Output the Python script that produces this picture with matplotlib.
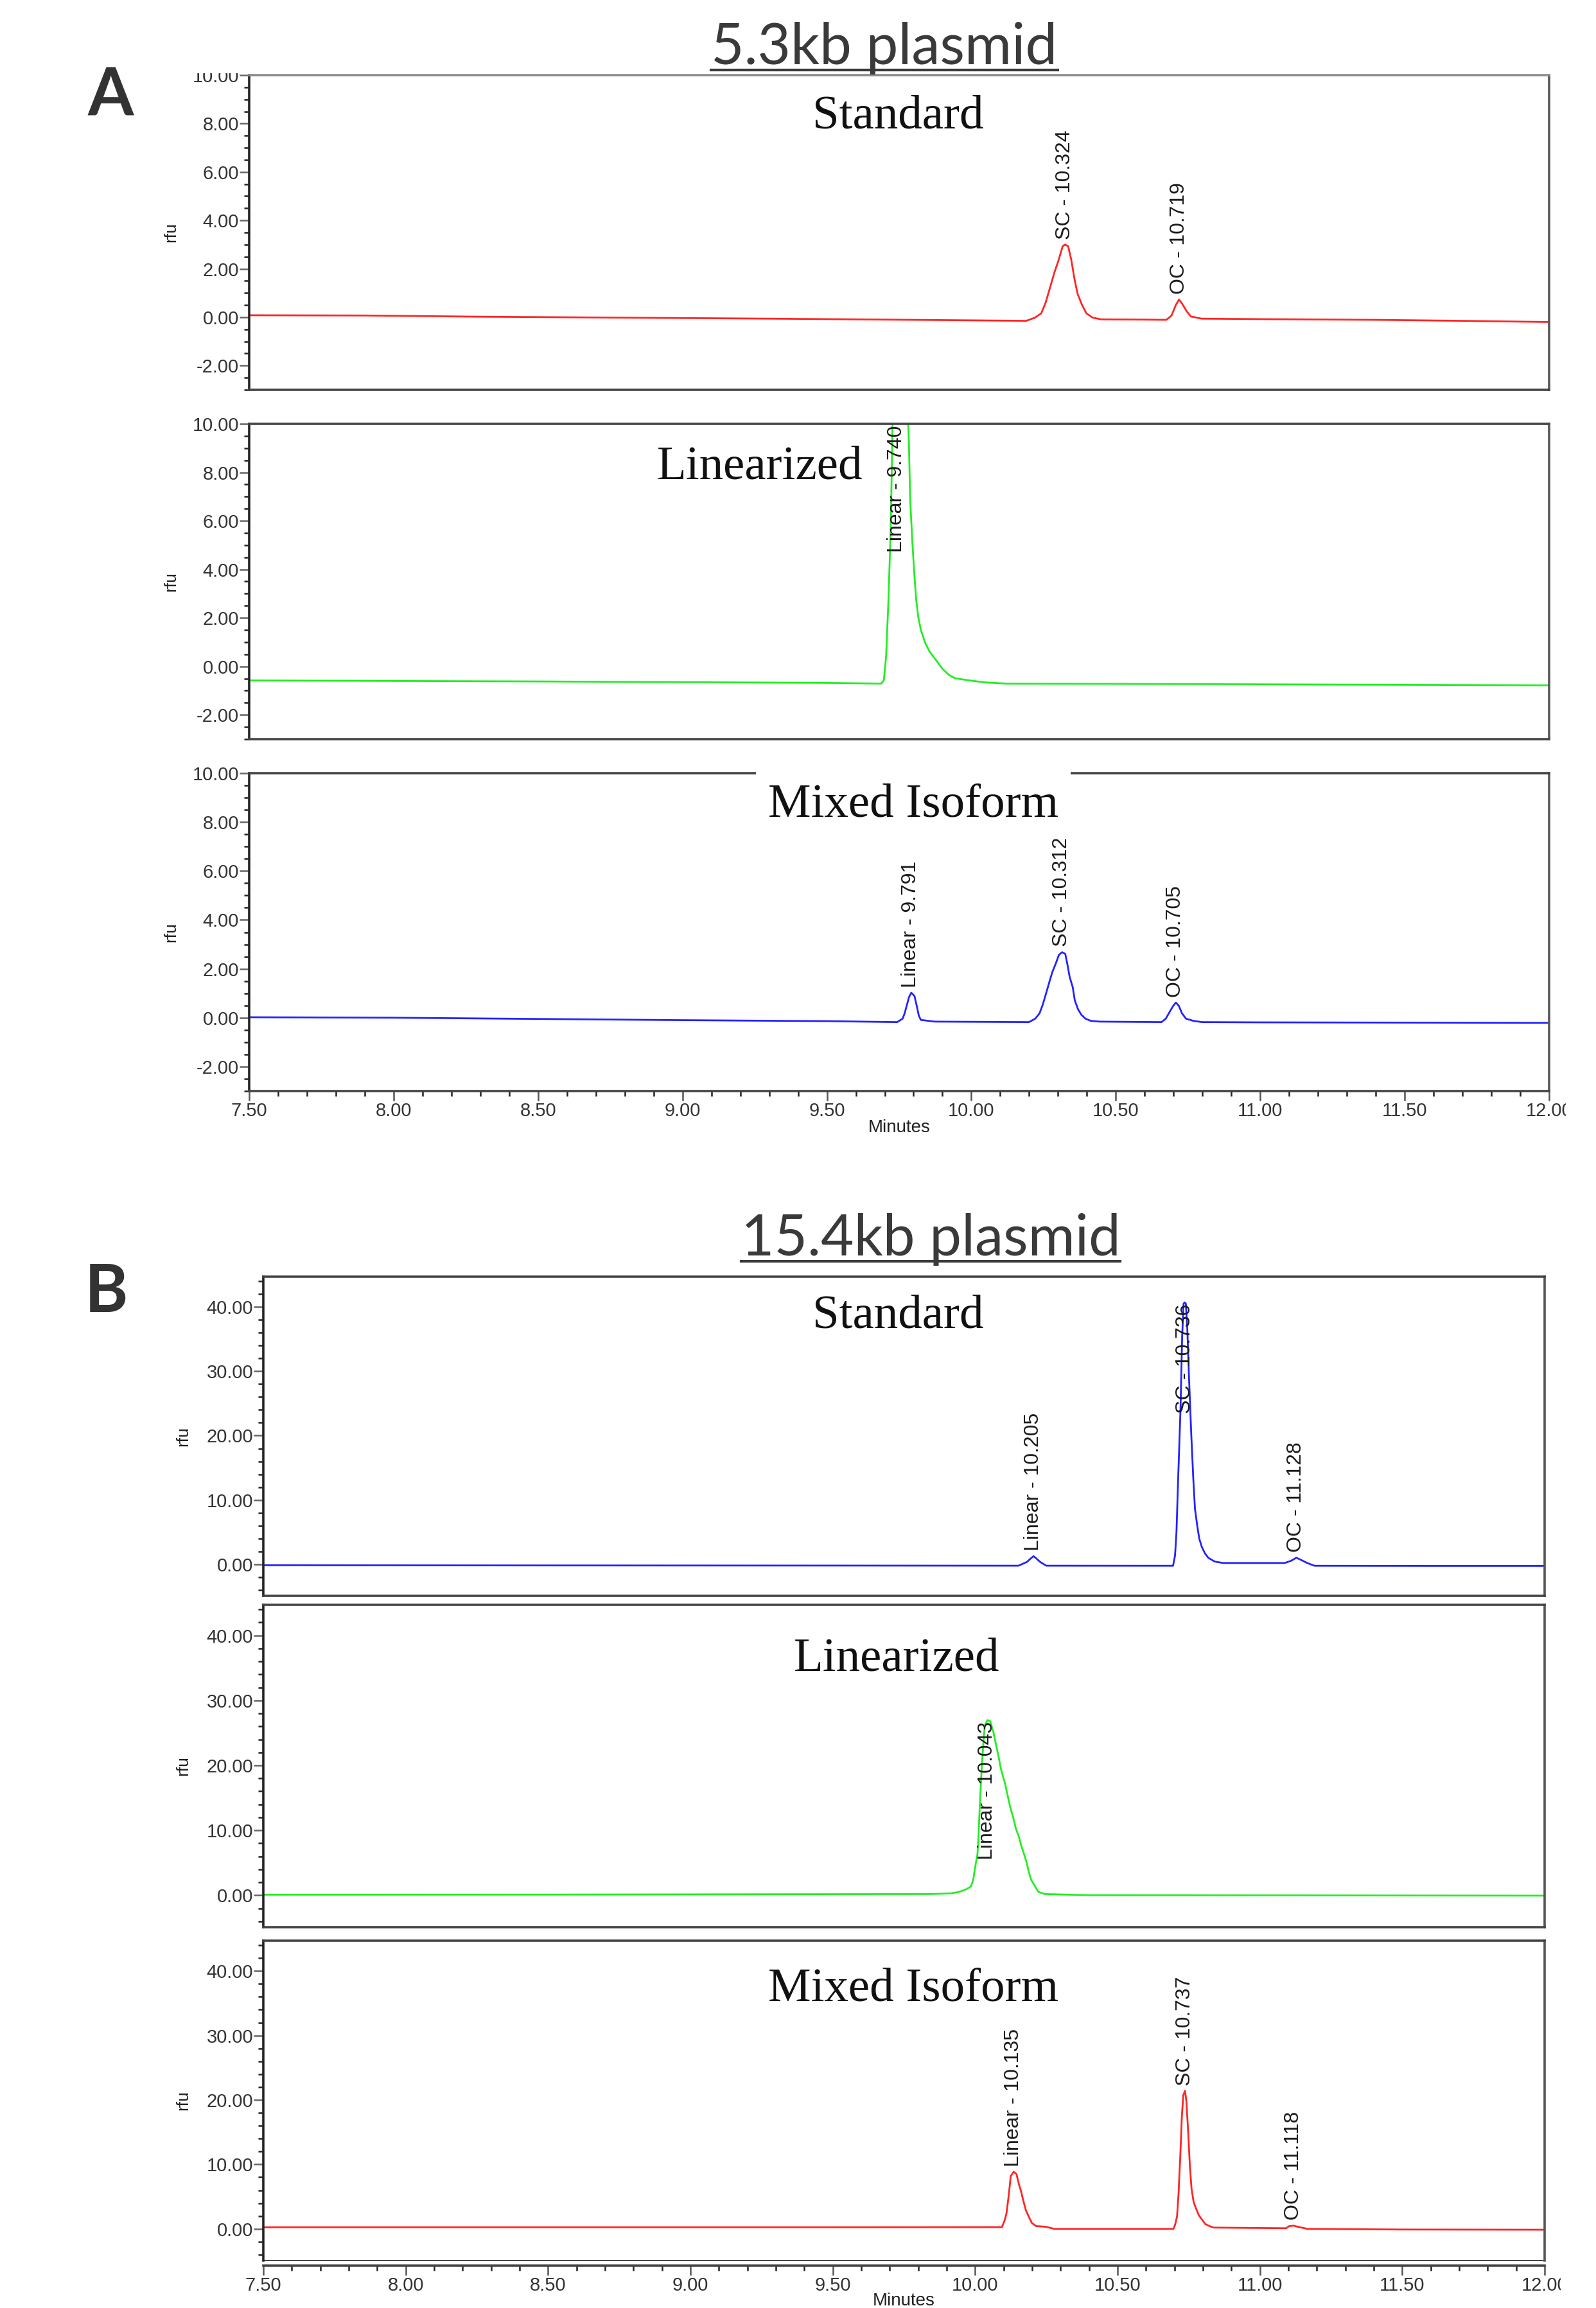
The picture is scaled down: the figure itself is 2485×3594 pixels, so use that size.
import matplotlib
matplotlib.use("Agg")
import matplotlib.pyplot as plt
from matplotlib import font_manager
from matplotlib.font_manager import FontProperties
from matplotlib.ticker import MultipleLocator, FixedLocator, FormatStrFormatter
from matplotlib.lines import Line2D
from matplotlib.patches import Rectangle

# ------------------------------------------------------------------ data
x_limits = [7.5, 12.0]
x_tick_values = [7.5, 8.0, 8.5, 9.0, 9.5, 10.0, 10.5, 11.0, 11.5, 12.0]
a_y_ticks = [-2, 0, 2, 4, 6, 8, 10]
b_y_ticks = [0, 10, 20, 30, 40]

panel_titles = ["5.3kb plasmid", "15.4kb plasmid"]
panel_letters = ["A", "B"]
trace_names = ["Standard", "Linearized", "Mixed Isoform"]

# --- A : 5.3 kb plasmid -------------------------------------------------
a_std_time = [7.50, 7.90, 8.30, 8.80, 9.30, 9.80, 10.190, 10.220, 10.242, 10.257,
              10.272, 10.287, 10.302, 10.316, 10.324, 10.335, 10.346, 10.357,
              10.368, 10.383, 10.398, 10.420, 10.450, 10.600, 10.675, 10.693,
              10.708, 10.719, 10.730, 10.745, 10.760, 10.797, 11.000, 11.400,
              11.700, 12.000]
a_std_rfu = [0.08, 0.07, 0.02, -0.02, -0.06, -0.11, -0.15, -0.02, 0.16, 0.60,
             1.21, 1.83, 2.36, 2.93, 3.00, 2.93, 2.36, 1.57,
             0.95, 0.51, 0.16, -0.02, -0.09, -0.10, -0.11, 0.07,
             0.51, 0.73, 0.55, 0.25, 0.03, -0.06, -0.08, -0.11,
             -0.15, -0.20]
a_std_peak_names = ["SC - 10.324", "OC - 10.719"]
a_std_peak_time = [10.324, 10.719]
a_std_peak_rfu = [3.00, 0.73]

a_lin_time = [7.50, 8.00, 8.50, 9.00, 9.50, 9.688, 9.697, 9.705, 9.713, 9.720,
              9.723, 9.727, 9.732, 9.755, 9.780, 9.784, 9.788, 9.796, 9.803,
              9.809, 9.816, 9.825, 9.840, 9.855, 9.877, 9.899, 9.922, 9.944,
              9.988, 10.047, 10.122, 10.500, 11.000, 11.500, 12.000]
a_lin_rfu = [-0.58, -0.60, -0.62, -0.65, -0.68, -0.71, -0.57, 0.44, 2.75, 5.40,
             7.17, 9.92, 10.60, 10.80, 10.50, 9.12, 6.90, 5.05, 3.72,
             2.75, 2.04, 1.51, 0.97, 0.62, 0.27, -0.09, -0.35, -0.49,
             -0.57, -0.66, -0.71, -0.72, -0.74, -0.76, -0.78]
a_lin_peak_names = ["Linear - 9.740"]
a_lin_peak_time = [9.740]
a_lin_peak_rfu = [10.80]

a_mix_time = [7.50, 8.00, 8.50, 9.00, 9.50, 9.743, 9.762, 9.769, 9.777, 9.784,
              9.792, 9.803, 9.810, 9.818, 9.825, 9.873, 10.199, 10.221, 10.236,
              10.247, 10.258, 10.269, 10.280, 10.292, 10.303, 10.314, 10.325,
              10.332, 10.340, 10.351, 10.358, 10.369, 10.380, 10.395, 10.414,
              10.444, 10.658, 10.673, 10.688, 10.699, 10.708, 10.718, 10.729,
              10.743, 10.769, 10.799, 11.000, 11.500, 12.000]
a_mix_rfu = [0.02, 0.00, -0.05, -0.10, -0.14, -0.18, -0.04, 0.18, 0.53, 0.84,
             1.02, 0.89, 0.53, 0.09, -0.09, -0.16, -0.18, -0.04, 0.18,
             0.53, 0.97, 1.42, 1.86, 2.21, 2.57, 2.68, 2.61,
             2.21, 1.68, 1.24, 0.71, 0.35, 0.13, -0.04, -0.13,
             -0.16, -0.18, -0.04, 0.27, 0.49, 0.62, 0.49, 0.18,
             -0.04, -0.13, -0.18, -0.19, -0.20, -0.21]
a_mix_peak_names = ["Linear - 9.791", "SC - 10.312", "OC - 10.705"]
a_mix_peak_time = [9.791, 10.312, 10.705]
a_mix_peak_rfu = [1.02, 2.68, 0.62]

# --- B : 15.4 kb plasmid ------------------------------------------------
b_std_time = [7.50, 8.50, 9.50, 10.152, 10.182, 10.194, 10.205, 10.216, 10.228,
              10.250, 10.695, 10.702, 10.707, 10.713, 10.721, 10.727, 10.732,
              10.736, 10.740, 10.745, 10.751, 10.759, 10.766, 10.772, 10.780,
              10.787, 10.796, 10.807, 10.819, 10.841, 10.871, 11.087, 11.109,
              11.128, 11.147, 11.166, 11.192, 11.600, 12.000]
b_std_rfu = [-0.15, -0.18, -0.20, -0.22, 0.37, 0.86, 1.26, 0.86, 0.37,
             -0.22, -0.23, 1.36, 4.99, 13.4, 23.8, 35.4, 40.5,
             40.7, 40.5, 36.7, 29.1, 20.2, 13.4, 8.6, 6.0,
             4.0, 2.7, 1.7, 1.0, 0.43, 0.20, 0.20, 0.53,
             1.02, 0.63, 0.20, -0.23, -0.25, -0.25]
b_std_peak_names = ["Linear - 10.205", "SC - 10.736", "OC - 11.128"]
b_std_peak_time = [10.205, 10.736, 11.128]
b_std_peak_rfu = [1.26, 40.7, 1.02]

b_lin_time = [7.50, 8.50, 9.50, 9.846, 9.914, 9.944, 9.970, 9.985, 9.993, 10.000,
              10.008, 10.011, 10.017, 10.023, 10.029, 10.034, 10.043, 10.053,
              10.064, 10.075, 10.083, 10.090, 10.105, 10.113, 10.123, 10.132,
              10.143, 10.154, 10.162, 10.172, 10.181, 10.188, 10.197, 10.211,
              10.222, 10.245, 10.395, 11.000, 12.000]
b_lin_rfu = [0.10, 0.12, 0.18, 0.20, 0.30, 0.53, 0.96, 1.36, 2.35, 4.33,
             6.31, 8.29, 14.57, 19.53, 23.49, 26.13, 26.96, 26.79,
             25.14, 22.83, 21.18, 19.53, 17.21, 15.56, 13.58, 12.26,
             10.28, 8.95, 7.63, 6.31, 4.99, 3.67, 2.35, 1.36,
             0.53, 0.20, 0.03, 0.00, -0.05]
b_lin_peak_names = ["Linear - 10.043"]
b_lin_peak_time = [10.043]
b_lin_peak_rfu = [26.96]

b_mix_time = [7.50, 8.50, 9.50, 10.094, 10.103, 10.110, 10.118, 10.125, 10.135,
              10.145, 10.154, 10.161, 10.169, 10.178, 10.188, 10.199, 10.214,
              10.248, 10.278, 10.696, 10.702, 10.709, 10.714, 10.720, 10.726,
              10.731, 10.737, 10.742, 10.748, 10.754, 10.760, 10.767, 10.775,
              10.786, 10.797, 10.808, 10.823, 10.838, 11.092, 11.103, 11.118,
              11.133, 11.167, 11.500, 12.000]
b_mix_rfu = [0.25, 0.25, 0.25, 0.27, 1.26, 2.41, 5.22, 8.19, 8.85,
             8.52, 6.87, 5.88, 4.39, 2.91, 1.92, 0.93, 0.43,
             0.33, 0.00, 0.00, 0.60, 1.92, 5.22, 10.84, 17.44,
             20.75, 21.41, 19.76, 15.13, 9.85, 6.21, 4.23, 3.24,
             2.08, 1.42, 0.76, 0.43, 0.20, 0.10, 0.43, 0.50,
             0.33, 0.00, -0.10, -0.13]
b_mix_peak_names = ["Linear - 10.135", "SC - 10.737", "OC - 11.118"]
b_mix_peak_time = [10.135, 10.737, 11.118]
b_mix_peak_rfu = [8.85, 21.41, 0.50]

# ------------------------------------------------------------------ style
W, H, DPI = 2485, 3594, 100
RED, GREEN, BLUE = "#ff2424", "#22ee22", "#2222ff"


def have_font(name):
    try:
        font_manager.findfont(FontProperties(family=name), fallback_to_default=False)
        return True
    except Exception:
        return False


SANS = "Liberation Sans" if have_font("Liberation Sans") else "DejaVu Sans"
SERIF = "Liberation Serif" if have_font("Liberation Serif") else "DejaVu Serif"
TITLE_FONT = "Lato" if have_font("Lato") else "DejaVu Sans"
if have_font("Liberation Sans Narrow"):
    PEAK_FONT, PEAK_SIZE = "Liberation Sans Narrow", 27
else:
    PEAK_FONT, PEAK_SIZE = SANS, 23

plt.rcParams["font.family"] = [SANS, "DejaVu Sans"]

fig = plt.figure(figsize=(W / DPI, H / DPI), dpi=DPI)
fig.patch.set_facecolor("white")


def rect(left, right, top, bottom):
    return [left / W, 1 - bottom / H, (right - left) / W, (bottom - top) / H]


def fx(x):
    return x / W


def fy(y):
    return 1 - y / H


peak_annotations = []


def make_axes(box, ylim, yticks, minor_step, color, time, rfu,
              pk_names, pk_time, pk_rfu, show_x=False, ylab_x=-0.054,
              top_color="#444444", outward_bottom=False):
    ax = fig.add_axes(rect(*box))
    ax.plot(time, rfu, color=color, lw=2.0, solid_joinstyle="round")
    ax.set_xlim(*x_limits)
    ax.set_ylim(*ylim)
    ax.yaxis.set_major_locator(FixedLocator(yticks))
    ax.yaxis.set_minor_locator(MultipleLocator(minor_step))
    ax.yaxis.set_major_formatter(FormatStrFormatter("%.2f"))
    ax.tick_params(axis="y", which="major", direction="out", length=11, width=1.8,
                   color="#666666", labelsize=21, labelcolor="#333333", pad=0.5)
    ax.tick_params(axis="y", which="minor", direction="out", length=6, width=1.8,
                   color="#222222")
    for side in ["top", "right", "bottom", "left"]:
        ax.spines[side].set_linewidth(2.6)
    ax.spines["left"].set_color("#222222")
    ax.spines["top"].set_color(top_color)
    ax.spines["right"].set_color("#555555")
    ax.spines["bottom"].set_color("#444444")
    if show_x:
        ax.xaxis.set_major_locator(FixedLocator(x_tick_values))
        ax.xaxis.set_minor_locator(MultipleLocator(0.1))
        ax.xaxis.set_major_formatter(FormatStrFormatter("%.2f"))
        ax.tick_params(axis="x", which="major", direction="out", length=11, width=1.8,
                       color="#555555", labelsize=21, labelcolor="#333333", pad=1)
        ax.tick_params(axis="x", which="minor", direction="out", length=6, width=1.8,
                       color="#222222")
        ax.set_xlabel("Minutes", fontsize=20, color="#222222")
    else:
        ax.set_xticks([])
    if outward_bottom:
        ax.spines["bottom"].set_position(("outward", 6))
        ax.plot([0, 1], [0, 0], transform=ax.transAxes, color="#222222", lw=1.2,
                clip_on=False)
    ax.set_ylabel("rfu", fontsize=19, color="#222222")
    ax.yaxis.set_label_coords(ylab_x, 0.5)
    for name, t, v in zip(pk_names, pk_time, pk_rfu):
        ann = ax.annotate(name, xy=(t, v), xytext=(0, 6), textcoords="offset points",
                          rotation=90, ha="center", va="bottom", fontsize=PEAK_SIZE,
                          family=[PEAK_FONT, "DejaVu Sans"], color="#1a1a1a",
                          annotation_clip=False, zorder=4)
        peak_annotations.append((ax, ann, t, v))
    return ax


A_LEFT, A_RIGHT = 388, 2412
B_LEFT, B_RIGHT = 410, 2405
a_ylim = (-3.0, 10.0)
b_ylim = (-4.9, 44.7)

ax_a1 = make_axes((A_LEFT, A_RIGHT, 117, 607), a_ylim, a_y_ticks, 0.5, RED,
                  a_std_time, a_std_rfu, a_std_peak_names, a_std_peak_time,
                  a_std_peak_rfu, top_color="#8c8c8c")
ax_a2 = make_axes((A_LEFT, A_RIGHT, 660, 1151), a_ylim, a_y_ticks, 0.5, GREEN,
                  a_lin_time, a_lin_rfu, a_lin_peak_names, a_lin_peak_time,
                  a_lin_peak_rfu)
ax_a3 = make_axes((A_LEFT, A_RIGHT, 1204, 1699), a_ylim, a_y_ticks, 0.5, BLUE,
                  a_mix_time, a_mix_rfu, a_mix_peak_names, a_mix_peak_time,
                  a_mix_peak_rfu, show_x=True)
ax_a3.xaxis.set_label_coords(0.5, -0.088)

ax_b1 = make_axes((B_LEFT, B_RIGHT, 1988, 2485), b_ylim, b_y_ticks, 2, BLUE,
                  b_std_time, b_std_rfu, b_std_peak_names, b_std_peak_time,
                  b_std_peak_rfu, ylab_x=-0.0566)
ax_b2 = make_axes((B_LEFT, B_RIGHT, 2499, 3001), b_ylim, b_y_ticks, 2, GREEN,
                  b_lin_time, b_lin_rfu, b_lin_peak_names, b_lin_peak_time,
                  b_lin_peak_rfu, ylab_x=-0.0566)
ax_b3 = make_axes((B_LEFT, B_RIGHT, 3022, 3520), b_ylim, b_y_ticks, 2, RED,
                  b_mix_time, b_mix_rfu, b_mix_peak_names, b_mix_peak_time,
                  b_mix_peak_rfu, show_x=True, ylab_x=-0.0566, outward_bottom=True)
ax_b3.xaxis.set_label_coords(0.5, -0.1)

# ---- panel titles, letters, trace names
title_specs = [(panel_titles[0], 1377, 100, 109), (panel_titles[1], 1449, 1955, 1964)]
title_texts = []
for text, cx, base, uline in title_specs:
    t = fig.text(fx(cx), fy(base), text, ha="center", va="baseline", fontsize=64,
                 family=[TITLE_FONT, "DejaVu Sans"], color="#3a3a3a")
    title_texts.append((t, uline))

for letter, cx, cy in [(panel_letters[0], 172, 149), (panel_letters[1], 166, 2013)]:
    fig.text(fx(cx), fy(cy), letter, ha="center", va="center", fontsize=74,
             fontweight="bold", family=[TITLE_FONT, "DejaVu Sans"], color="#333333")

name_specs = [(trace_names[0], 1398, 199, False), (trace_names[1], 1183, 745, False),
              (trace_names[2], 1422, 1272, True), (trace_names[0], 1398, 2068, False),
              (trace_names[1], 1396, 2602, False), (trace_names[2], 1422, 3115, False)]
for text, cx, base, boxed in name_specs:
    kw = {}
    if boxed:
        kw["bbox"] = dict(boxstyle="square,pad=0.25", fc="white", ec="none")
    fig.text(fx(cx), fy(base), text, ha="center", va="baseline", fontsize=54,
             family=[SERIF, "DejaVu Serif"], color="#111111", zorder=5, **kw)

# ---- place peak labels (move inside when there is no room above the apex)
fig.canvas.draw()
renderer = fig.canvas.get_renderer()
for ax, ann, t, v in peak_annotations:
    bb = ann.get_window_extent(renderer)
    axbb = ax.get_window_extent(renderer)
    if bb.y1 > axbb.y1 - 2:
        ytop = ax.get_ylim()[1]
        ann.xy = (t, min(v, ytop))
        ann.set_va("top")
        ann.xyann = (0, -2)

# ---- underline titles
for t, uline in title_texts:
    bb = t.get_window_extent(renderer)
    fig.add_artist(Line2D([bb.x0 / W, bb.x1 / W], [fy(uline), fy(uline)],
                          transform=fig.transFigure, color="#3a3a3a", lw=3.0))

# ---- cropped edges of the original screenshot
fig.add_artist(Rectangle((fx(270), fy(114)), (385 - 270) / W, 114 / H,
                         transform=fig.transFigure, fc="white", ec="none", zorder=10))
fig.add_artist(Rectangle((fx(2438), fy(1760)), (W - 2438) / W, 60 / H,
                         transform=fig.transFigure, fc="white", ec="none", zorder=10))
fig.add_artist(Rectangle((fx(2430), fy(3575)), (W - 2430) / W, 40 / H,
                         transform=fig.transFigure, fc="white", ec="none", zorder=10))

fig.savefig("out.png", dpi=DPI, facecolor="white")
